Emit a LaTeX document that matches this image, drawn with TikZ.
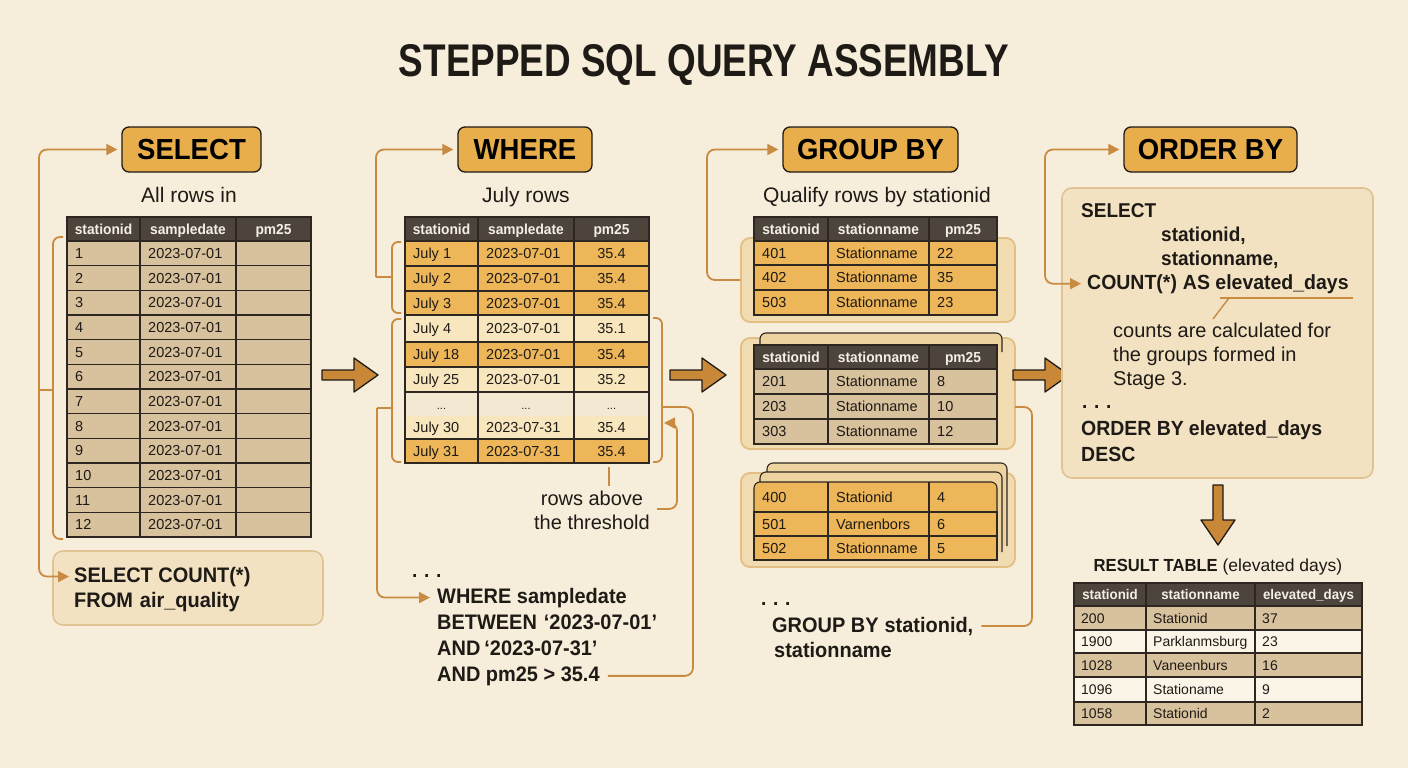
\documentclass[tikz,border=0pt]{standalone}
\usepackage{fontspec}
\usepackage{graphicx}
\setmainfont{Liberation Sans}[BoldFeatures={FakeStretch=0.95}]
\usetikzlibrary{arrows.meta}
\definecolor{bg}{HTML}{F6EEDA}
\definecolor{pill}{HTML}{E9AE4C}
\definecolor{ink}{HTML}{1E1A16}
\definecolor{conncol}{HTML}{C98A42}
\definecolor{hdr}{HTML}{4D443B}
\definecolor{hdrtxt}{HTML}{F4EFE6}
\definecolor{tan}{HTML}{D8C29E}
\definecolor{orng}{HTML}{EDB658}
\definecolor{lite}{HTML}{F8E6BE}
\definecolor{pale}{HTML}{F3E9D3}
\definecolor{whit}{HTML}{FBF5E8}
\definecolor{gridc}{HTML}{2E2620}
\definecolor{panel}{HTML}{F2E2C2}
\definecolor{panelb}{HTML}{E0C393}
\definecolor{grp}{HTML}{F1DCB1}
\definecolor{grpb}{HTML}{E3BE85}
\definecolor{card}{HTML}{EDD3A0}
\definecolor{bigarr}{HTML}{C98838}
\newcommand\fs[1]{\fontsize{#1}{#1}\selectfont}
% table row: name, ytop, ybot, fill, c1, c2, c3, L/C
\newcommand\trow[8]{%
  \fill[#4] (\xa,#2) rectangle (\xd,#3);
  \draw[gridl] (\xa,#2) rectangle (\xd,#3) (\xb,#2) -- (\xb,#3) (\xc,#2) -- (\xc,#3);
  \node[cell,anchor=base west] (#1a) at (\xa+\tind,{(#2+#3)/2+5}) {#5};
  \node[cell,anchor=base west] (#1b) at (\xb+\tind,{(#2+#3)/2+5}) {#6};
  \if C#8
    \node[cell,anchor=base] (#1c) at ({(\xc+\xd)/2},{(#2+#3)/2+5}) {#7};
  \else
    \node[cell,anchor=base west] (#1c) at (\xc+\tind,{(#2+#3)/2+5}) {#7};
  \fi
}
% header row: name, ytop, ybot, h1, h2, h3
\newcommand\thead[6]{%
  \fill[hdr] (\xa,#2) rectangle (\xd,#3);
  \draw[gridl] (\xa,#2) rectangle (\xd,#3) (\xb,#2) -- (\xb,#3) (\xc,#2) -- (\xc,#3);
  \node[hcell,anchor=base] (#1a) at ({(\xa+\xb)/2},{(#2+#3)/2+5}) {#4};
  \node[hcell,anchor=base] (#1b) at ({(\xb+\xc)/2},{(#2+#3)/2+5}) {#5};
  \node[hcell,anchor=base] (#1c) at ({(\xc+\xd)/2},{(#2+#3)/2+5}) {#6};
}
% big right arrow: x0, yc
\newcommand\rarrow[2]{%
  \draw[bigarrow] (#1,#2-5) -- (#1+32,#2-5) -- (#1+32,#2-17) -- (#1+56,#2)
    -- (#1+32,#2+17) -- (#1+32,#2+5) -- (#1,#2+5) -- cycle;
}
\begin{document}
\begin{tikzpicture}[x=1pt,y=-1pt,
  pillbox/.style={draw=ink,line width=1.3pt,fill=pill,rounded corners=7pt,minimum height=45pt,inner sep=0pt,font=\bfseries\fs{29}},
  sub/.style={font=\fs{21},inner sep=0pt,text=ink},
  cell/.style={font=\fs{14.5},inner sep=0pt,text=ink},
  hcell/.style={font=\bfseries\fs{14.5},inner sep=0pt,text=hdrtxt},
  gridl/.style={draw=gridc,line width=1.1pt},
  conn/.style={draw=conncol,line width=1.8pt,rounded corners=8pt},
  arrowend/.style={-{Triangle[length=11pt,width=11pt]}},
  bothends/.style={{Triangle[length=11pt,width=11pt]}-{Triangle[length=11pt,width=11pt]}},
  sqltxt/.style={font=\bfseries\fs{21},inner sep=0pt,text=ink,anchor=base west},
  note/.style={font=\fs{20},inner sep=0pt,text=ink},
  panelbox/.style={fill=panel,draw=panelb,line width=1.6pt,rounded corners=10pt},
  grpbox/.style={fill=grp,draw=grpb,line width=1.8pt,rounded corners=9pt},
  cardst/.style={fill=card,draw=gridc,line width=1.1pt,rounded corners=6pt},
  bigarrow/.style={fill=bigarr,draw=ink,line width=1.3pt,line join=round}]
\useasboundingbox (0,0) rectangle (1408,768);
\fill[bg] (0,0) rectangle (1408,768);

% title
\node[inner sep=0pt,anchor=base,text=ink] (title) at (704,77) {\resizebox{610pt}{32pt}{\bfseries STEPPED SQL QUERY ASSEMBLY}};

% stage pills
\node[pillbox,minimum width=139pt] (pSel) at (191.5,149.5) {SELECT};
\node[pillbox,minimum width=134pt] (pWhere) at (525,149.5) {WHERE};
\node[pillbox,minimum width=175pt] (pGrp) at (870.5,149.5) {GROUP BY};
\node[pillbox,minimum width=173pt] (pOrd) at (1210.5,149.5) {ORDER BY};

% subtitles
\node[sub,anchor=base] (s1) at (189,202) {All rows in};
\node[sub,anchor=base] (s2) at (526,202) {July rows};
\node[sub,anchor=base] (s3) at (877,202) {Qualify rows by stationid};

% ---------- stage 1 : SELECT ----------
\node[panelbox,minimum width=270pt,minimum height=74pt] (selbox) at (188,588) {};
\def\xa{67}\def\xb{140}\def\xc{236}\def\xd{311}\def\tind{8}
\thead{t1h}{217}{241}{stationid}{sampledate}{pm25}
\foreach \i in {1,...,12}{%
  \pgfmathsetmacro\yt{241+(\i-1)*24.667}%
  \pgfmathsetmacro\yb{241+\i*24.667}%
  \trow{t1r\i}{\yt}{\yb}{tan}{\i}{2023-07-01}{}{L}
}
\node[sqltxt] (sc1) at (74,582) {SELECT COUNT(*)};
\node[sqltxt] (sc2) at (74,607) {FROM\hspace{7pt}air\_quality};
\draw[conn,rounded corners=7pt] (63,237) -- (53,237) -- (53,539) -- (63,539);
\coordinate (selJ) at (39,390);
\draw[conn] (53,390) -- (selJ);
\draw[conn,arrowend] (selJ) |- ([xshift=-4pt]pSel.west);
\draw[conn,arrowend] (selJ) |- ([xshift=-5pt]sc1.west);

\rarrow{322}{375}

% ---------- stage 2 : WHERE ----------
\def\xa{405}\def\xb{478}\def\xc{574}\def\xd{649}\def\tind{8}
\thead{t2h}{217}{241}{stationid}{sampledate}{pm25}
\trow{t2r1}{241}{266}{orng}{July 1}{2023-07-01}{35.4}{C}
\trow{t2r2}{266}{291}{orng}{July 2}{2023-07-01}{35.4}{C}
\trow{t2r3}{291}{315}{orng}{July 3}{2023-07-01}{35.4}{C}
\trow{t2r4}{315}{342}{lite}{July 4}{2023-07-01}{35.1}{C}
\trow{t2r5}{342}{367}{orng}{July 18}{2023-07-01}{35.4}{C}
\trow{t2r6}{367}{392}{lite}{July 25}{2023-07-01}{35.2}{C}
\fill[pale] (\xa,392) rectangle (\xd,416);
\fill[lite] (\xa,416) rectangle (\xd,439);
\draw[gridl] (\xa,392) rectangle (\xd,439) (\xb,392) -- (\xb,439) (\xc,392) -- (\xc,439);
\node[cell,font=\fs{11},anchor=base] (t2d1) at ({(\xa+\xb)/2},409) {...};
\node[cell,font=\fs{11},anchor=base] (t2d2) at ({(\xb+\xc)/2},409) {...};
\node[cell,font=\fs{11},anchor=base] (t2d3) at ({(\xc+\xd)/2},409) {...};
\node[cell,anchor=base west] (t2r8a) at (\xa+8,432) {July 30};
\node[cell,anchor=base west] (t2r8b) at (\xb+8,432) {2023-07-31};
\node[cell,anchor=base] (t2r8c) at ({(\xc+\xd)/2},432) {35.4};
\trow{t2r9}{439}{463}{orng}{July 31}{2023-07-31}{35.4}{C}

\draw[conn,rounded corners=6pt] (401,242) -- (392,242) -- (392,313) -- (401,313);
\draw[conn,rounded corners=6pt] (401,319) -- (392,319) -- (392,462) -- (401,462);
\draw[conn,rounded corners=6pt] (653,318) -- (662,318) -- (662,462) -- (653,462);
\coordinate (wJ1) at (376,277);
\draw[conn] (392,277) -- (wJ1);
\draw[conn,arrowend] (wJ1) |- ([xshift=-4pt]pWhere.west);

\node[note,anchor=base] (thr1) at (592,505) {rows above};
\node[note,anchor=base] (thr2) at (592,529) {the threshold};
\draw[conn] (609,467) -- (609,486);
\coordinate (thrC) at (657,509);
\draw[conn,arrowend] (thrC) -- (677,509) -- (677,423) -- (664,423);

\node[sqltxt,font=\bfseries\fs{20}] (wd) at (412,577) {.\,\,.\,\,.};
\node[sqltxt] (ws1) at (437,603) {WHERE sampledate};
\node[sqltxt] (ws2) at (437,629) {BETWEEN\hspace{7pt}‘2023-07-01’};
\node[sqltxt] (ws3) at (437,655) {AND\hspace{4pt}‘2023-07-31’};
\node[sqltxt] (ws4) at (437,681) {AND pm25 > 35.4};
\coordinate (wJ2) at (377,408);
\draw[conn] (392,408) -- (wJ2);
\draw[conn,arrowend] (wJ2) |- ([xshift=-7pt]ws1.west);
\draw[conn] (662,407) -- (693,407) |- ([xshift=8pt]ws4.east);

\rarrow{670}{375}

% ---------- stage 3 : GROUP BY ----------
\node[grpbox,minimum width=274pt,minimum height=84pt] (g1box) at (878,280) {};
\node[grpbox,minimum width=274pt,minimum height=111pt] (g2box) at (878,393.5) {};
\node[grpbox,minimum width=274pt,minimum height=94pt] (g3box) at (878,520) {};
\def\xa{754}\def\xb{828}\def\xc{929}\def\xd{997}\def\tind{8}
% group 1
\thead{g1h}{217}{241}{stationid}{stationname}{pm25}
\trow{g1r1}{241}{265}{orng}{401}{Stationname}{22}{L}
\trow{g1r2}{265}{290}{orng}{402}{Stationname}{35}{L}
\trow{g1r3}{290}{315}{orng}{503}{Stationname}{23}{L}
% group 2
\draw[cardst] (760,352) -- (760,333) -- (1002,333) -- (1002,352);
\thead{g2h}{345}{369}{stationid}{stationname}{pm25}
\trow{g2r1}{369}{394}{tan}{201}{Stationname}{8}{L}
\trow{g2r2}{394}{419}{tan}{203}{Stationname}{10}{L}
\trow{g2r3}{419}{444}{tan}{303}{Stationname}{12}{L}
% group 3
\draw[cardst] (767,546) -- (767,463) -- (1007,463) -- (1007,546);
\draw[cardst] (760,552) -- (760,472) -- (1002,472) -- (1002,552);
\fill[orng,rounded corners=6pt] (\xa,530) -- (\xa,482) -- (\xd,482) -- (\xd,530) -- cycle;
\draw[gridl,rounded corners=6pt] (\xa,512) -- (\xa,482) -- (\xd,482) -- (\xd,512);
\draw[gridl] (\xb,482) -- (\xb,512) (\xc,482) -- (\xc,512);
\node[cell,anchor=base west] (g3r1a) at (\xa+8,502) {400};
\node[cell,anchor=base west] (g3r1b) at (\xb+8,502) {Stationid};
\node[cell,anchor=base west] (g3r1c) at (\xc+8,502) {4};
\trow{g3r2}{512}{536}{orng}{501}{Varnenbors}{6}{L}
\trow{g3r3}{536}{560}{orng}{502}{Stationname}{5}{L}

\draw[conn,arrowend] (g1box.west) -- (707,280) |- ([xshift=-4pt]pGrp.west);

\node[sqltxt,font=\bfseries\fs{20}] (gd) at (761,605) {.\,\,.\,\,.};
\node[sqltxt] (gs1) at (772,632) {GROUP BY\hspace{6pt}stationid,};
\node[sqltxt] (gs2) at (774,657) {stationname};
\coordinate (g2r) at (1015,407);
\draw[conn] (g2r) -- (1032,407) |- ([xshift=8pt]gs1.east);

\rarrow{1013}{375}

% ---------- stage 4 : ORDER BY ----------
\node[panelbox,minimum width=311pt,minimum height=290pt] (opanel) at (1217.5,333) {};
\node[sqltxt,font=\bfseries\fs{20}] (o1) at (1081,217) {SELECT};
\node[sqltxt,font=\bfseries\fs{20}] (o2) at (1161,241) {stationid,};
\node[sqltxt,font=\bfseries\fs{20}] (o3) at (1161,265) {stationname,};
\node[sqltxt,font=\bfseries\fs{20.5}] (o4) at (1087,289) {COUNT(*)\hspace{6pt}AS elevated\_days};
\draw[conn,line width=1.4pt,rounded corners=0pt] (1220,298) -- (1353,298);
\draw[conn,line width=1.4pt,rounded corners=0pt] (1229,298) -- (1213,319);
\node[note,anchor=base west] (o5) at (1113,337) {counts are calculated for};
\node[note,anchor=base west] (o6) at (1113,361) {the groups formed in};
\node[note,anchor=base west] (o7) at (1113,385) {Stage 3.};
\node[sqltxt,font=\bfseries\fs{20}] (o8) at (1082,408) {.\,\,.\,\,.};
\node[sqltxt,font=\bfseries\fs{20.5}] (o9) at (1081,435) {ORDER BY\hspace{5pt}elevated\_days};
\node[sqltxt,font=\bfseries\fs{20.5}] (o10) at (1081,461) {DESC};
\draw[conn,bothends] ([xshift=-4pt]pOrd.west) -- (1045,149.5) |- ([xshift=-6pt]o4.west);

% down arrow
\draw[bigarrow] (1213,485) -- (1223,485) -- (1223,520) -- (1235,520) -- (1218,545)
  -- (1201,520) -- (1213,520) -- cycle;

% result table
\node[inner sep=0pt,anchor=base,text=ink] (rtitle) at (1218,571) {\fs{17.5}\textbf{RESULT TABLE} (elevated days)};
\def\xa{1074}\def\xb{1146}\def\xc{1255}\def\xd{1362}\def\tind{7}
\begin{scope}[cell/.style={font=\fs{14},inner sep=0pt,text=ink},hcell/.style={font=\bfseries\fs{14},inner sep=0pt,text=hdrtxt}]
\thead{rh}{583}{606}{stationid}{stationname}{elevated\_days}
\trow{rr1}{606}{630}{tan}{200}{Stationid}{37}{L}
\trow{rr2}{630}{653}{whit}{1900}{Parklanmsburg}{23}{L}
\trow{rr3}{653}{677}{tan}{1028}{Vaneenburs}{16}{L}
\trow{rr4}{677}{702}{whit}{1096}{Stationame}{9}{L}
\trow{rr5}{702}{725}{tan}{1058}{Stationid}{2}{L}
\end{scope}
\end{tikzpicture}
\end{document}
